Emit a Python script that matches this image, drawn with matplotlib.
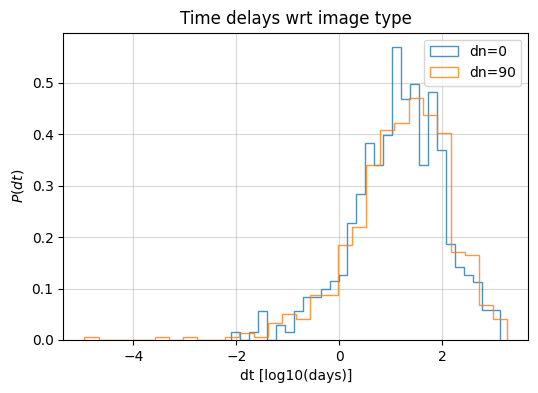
import numpy as np
import matplotlib
matplotlib.use("Agg")
import matplotlib.pyplot as plt

# bin ranges (30 bins each)
dn0_range = (-2.109, 3.126)
dn90_range = (-4.951, 3.262)

# density heights per bin
dn0_heights = [0.015, 0.0, 0.015, 0.057, 0.0, 0.029, 0.015, 0.057, 0.084, 0.084,
               0.100, 0.114, 0.127, 0.228, 0.284, 0.382, 0.340, 0.398, 0.569, 0.468,
               0.497, 0.340, 0.482, 0.370, 0.186, 0.142, 0.126, 0.113, 0.058, 0.058]
dn90_heights = [0.005, 0.0, 0.0, 0.0, 0.0, 0.005, 0.0, 0.005, 0.0, 0.0,
                0.005, 0.013, 0.005, 0.032, 0.050, 0.040, 0.087, 0.087, 0.185, 0.219,
                0.340, 0.408, 0.421, 0.471, 0.438, 0.403, 0.171, 0.165, 0.068, 0.040]
labels = ["dn=0", "dn=90"]

fig = plt.figure(figsize=(5.38, 3.93), dpi=100)
ax = fig.add_subplot(111)
fig.subplots_adjust(left=0.1177, right=0.982, top=0.917, bottom=0.135)

for rng, h, lab in zip([dn0_range, dn90_range], [dn0_heights, dn90_heights], labels):
    edges = np.linspace(rng[0], rng[1], len(h) + 1)
    centers = 0.5 * (edges[:-1] + edges[1:])
    ax.hist(centers, bins=edges, weights=h, histtype='step', alpha=0.8, label=lab)

ax.grid(alpha=0.5)
ax.set_title('Time delays wrt image type')
ax.set_xlabel('dt [log10(days)]')
ax.set_ylabel('$P(dt)$')
ax.legend(loc='upper right')

fig.savefig('out.png', dpi=100)
